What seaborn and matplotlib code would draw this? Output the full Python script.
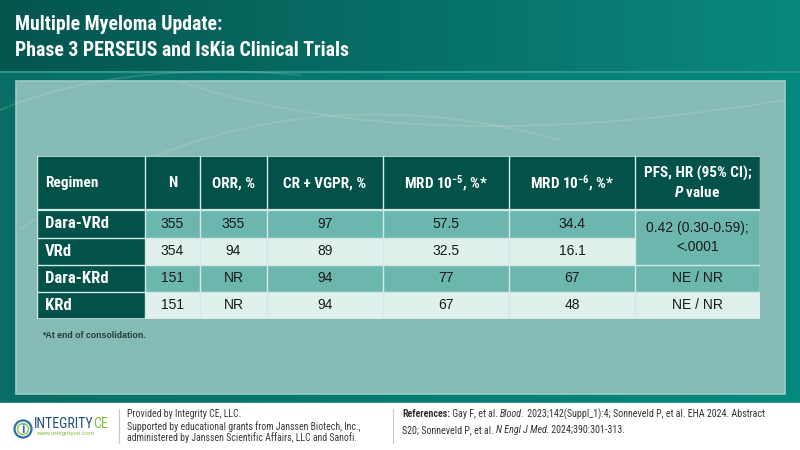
import numpy as np
import pandas as pd
import matplotlib
matplotlib.use("Agg")
import matplotlib.pyplot as plt
import seaborn as sns
from matplotlib.colors import ListedColormap, to_rgb
from matplotlib import font_manager as fm
from matplotlib.patches import Rectangle, Circle

# ---------------- data ----------------
title_lines = ["Multiple Myeloma Update:", "Phase 3 PERSEUS and IsKia Clinical Trials"]
headers = ["Regimen", "N", "ORR, %", "CR + VGPR, %",
           r"MRD 10$^{-5}$, %*", r"MRD 10$^{-6}$, %*", "PFS, HR (95% CI);"]
header_line2 = r"$\mathit{P}$ value"
regimens = ["Dara-VRd", "VRd", "Dara-KRd", "KRd"]
n_vals = ["355", "354", "151", "151"]
orr_vals = ["355", "94", "NR", "NR"]
crvgpr_vals = ["97", "89", "94", "94"]
mrd5_vals = ["57.5", "32.5", "77", "67"]
mrd6_vals = ["34.4", "16.1", "67", "48"]
pfs_vals = ["0.42 (0.30-0.59);\n<.0001", "", "NE / NR", "NE / NR"]
pfs_merged_rows = 2            # first PFS value spans two rows
row_shade = [1, 2, 1, 2]       # 0 dark, 1 medium, 2 light
pfs_shade = [1, 1, 1, 2]
footnote = "*At end of consolidation."
provided = ["Provided by Integrity CE, LLC.",
            "Supported by educational grants from Janssen Biotech, Inc.,",
            "administered by Janssen Scientific Affairs, LLC and Sanofi."]
refs_line1 = [("References:", "normal", "bold"), (" Gay F, et al. ", "normal", "normal"),
              ("Blood.", "italic", "normal"),
              (" 2023;142(Suppl_1):4; Sonneveld P, et al. EHA 2024. Abstract", "normal", "normal")]
refs_line2 = [("S20; Sonneveld P, et al. ", "normal", "normal"),
              ("N Engl J Med.", "italic", "normal"),
              (" 2024;390:301-313.", "normal", "normal")]

# ---------------- style ----------------
sns.set_theme(style="white")
names = {f.name for f in fm.fontManager.ttflist}
COND = next((n for n in ["Roboto Condensed", "Liberation Sans Narrow", "Archivo Narrow",
                         "Barlow Semi Condensed", "Asap Condensed"] if n in names), "DejaVu Sans")
REG = next((n for n in ["Liberation Sans", "Arimo", "Roboto"] if n in names), "DejaVu Sans")
plt.rcParams["font.family"] = [REG, "DejaVu Sans"]
plt.rcParams["mathtext.fontset"] = "custom"
plt.rcParams["mathtext.rm"] = COND + ":bold"
plt.rcParams["mathtext.bf"] = COND + ":bold"
plt.rcParams["mathtext.it"] = COND + ":italic:bold"

DARK = "#02524a"
MED = "#6cb7ad"
LIGHT = "#dff0ed"
LINE = "#d3e9e6"

fig = plt.figure(figsize=(8, 4.5), dpi=100)

# ---------------- background ----------------
bg = fig.add_axes([0, 0, 1, 1], zorder=0)
bg.set_xlim(0, 800)
bg.set_ylim(450, 0)
bg.axis("off")

def hgrad(c1, c2, n=256):
    a, b = np.array(to_rgb(c1)), np.array(to_rgb(c2))
    t = np.linspace(0, 1, n)[None, :, None]
    return a + (b - a) * t

bg.imshow(hgrad("#0a6e65", "#03897d"), extent=(0, 800, 403, 72), aspect="auto", zorder=0)
bg.imshow(hgrad("#04564f", "#0a887e"), extent=(0, 800, 72, 0), aspect="auto", zorder=0)
bg.plot([0, 800], [72, 72], color="#2c978c", lw=1.5, zorder=1)
bg.add_patch(Rectangle((0, 403), 800, 47, color="white", zorder=1))
bg.add_patch(Rectangle((16, 81), 769, 313, facecolor="#86bbb5", edgecolor="#9dccc6", lw=1.2, zorder=1))
# faint decorative swooshes
tt = np.linspace(0, 1, 200)
for (x0, y0, x1, y1, x2, y2, a) in [(20, 230, 260, 60, 560, 140, 0.10),
                                   (180, 82, 420, 160, 785, 100, 0.10),
                                   (0, 110, 120, 60, 300, 75, 0.12)]:
    xs = (1 - tt) ** 2 * x0 + 2 * (1 - tt) * tt * x1 + tt ** 2 * x2
    ys = (1 - tt) ** 2 * y0 + 2 * (1 - tt) * tt * y1 + tt ** 2 * y2
    bg.plot(xs, ys, color="white", alpha=a, lw=1.5, zorder=1.5)

for i, line in enumerate(title_lines):
    bg.text(15, 24 + 26 * i, line, color="white", fontsize=14.2, fontweight="bold",
            family=[COND, "DejaVu Sans"], va="center", ha="left", zorder=3)

bg.text(42, 336, footnote, fontsize=6.3, fontweight="bold", color="#1f3f3b", va="center", zorder=3)

# footer
bg.plot([119, 119], [409, 443], color="#c8c8c8", lw=0.8, zorder=3)
bg.plot([393, 393], [409, 443], color="#c8c8c8", lw=0.8, zorder=3)
for i, (txt, yy) in enumerate(zip(provided, [414, 427, 438])):
    bg.text(127, yy, txt, fontsize=7.1, color="#3a3a3a", family=[COND, REG], va="center", zorder=3)

fig.canvas.draw()
renderer = fig.canvas.get_renderer()

def rich(x, y, parts, size):
    for txt, style, weight in parts:
        t = bg.text(x, y, txt, fontsize=size, style=style, fontweight=weight,
                    color="#333333", family=[COND, REG], va="center", zorder=3)
        bb = t.get_window_extent(renderer=renderer)
        x += bb.width

rich(402, 414, refs_line1, 7.2)
rich(402, 430, refs_line2, 7.2)

# logo
bg.add_patch(Circle((23, 429), 8.5, facecolor="none", edgecolor="#2f6fa6", lw=1.6, zorder=3))
bg.add_patch(Circle((23, 429), 5.5, facecolor="none", edgecolor="#8cc63f", lw=1.0, zorder=3))
bg.text(23, 430, "i", fontsize=9, fontweight="bold", color="#2f6fa6", ha="center", va="center", zorder=4)
t1 = bg.text(34, 424, "INTEGRITY", fontsize=10, fontweight="normal", color="#1f4e7a",
             family=[COND, REG], va="center", zorder=3)
w1 = t1.get_window_extent(renderer=renderer).width
bg.text(34 + w1 - 0.5, 424, "CE", fontsize=10, fontweight="normal", color="#7fbf3f",
        family=[COND, REG], va="center", zorder=3)
bg.text(36, 434, "www.integrityce.com", fontsize=4.6, color="#7fbf3f", va="center", zorder=3)

# ---------------- table (seaborn heatmap) ----------------
col_widths = [108, 55, 67, 116, 126, 126, 125]
W = sum(col_widths)
edges = np.concatenate([[0], np.cumsum(col_widths)])
centers = (edges[:-1] + edges[1:]) / 2

# cell shade matrix: 2 header units + 4 body rows
shade = np.zeros((6, len(col_widths)), dtype=int)
for r in range(4):
    shade[2 + r, 1:6] = row_shade[r]
    shade[2 + r, 6] = pfs_shade[r]
    shade[2 + r, 0] = 0
grid = np.repeat(shade, col_widths, axis=1)
df = pd.DataFrame(grid)

ax = fig.add_axes([37 / 800, (450 - 319) / 450, W / 800, 163 / 450], zorder=2)
sns.heatmap(df, cmap=ListedColormap([DARK, MED, LIGHT]), vmin=-0.5, vmax=2.5,
            cbar=False, xticklabels=False, yticklabels=False, linewidths=0, ax=ax)
ax.set_xlim(0, W)
ax.set_ylim(6, 0)

# grid lines
for e in edges:
    ax.plot([e, e], [0, 6], color=LINE, lw=1.0, zorder=3)
ax.plot([0, W], [0, 0], color=LINE, lw=1.2, zorder=3)
ax.plot([0, W], [6, 6], color=LINE, lw=1.2, zorder=3)
ax.plot([0, W], [2, 2], color=LINE, lw=1.6, zorder=3)
ax.plot([0, edges[6]], [3, 3], color=LINE, lw=1.0, zorder=3)
ax.plot([0, W], [4, 4], color=LINE, lw=1.0, zorder=3)
ax.plot([0, W], [5, 5], color=LINE, lw=1.0, zorder=3)
for s in ax.spines.values():
    s.set_visible(False)

# header text
hdr_kw = dict(color="white", fontweight="bold", family=[COND, "DejaVu Sans"], fontsize=11, va="center")
ax.text(8, 1.0, headers[0], ha="left", **hdr_kw)
for j in range(1, 6):
    ax.text(centers[j], 1.0, headers[j], ha="center", **hdr_kw)
ax.text(centers[6], 0.64, headers[6], ha="center", **hdr_kw)
ax.text(centers[6], 1.36, header_line2, ha="center", **hdr_kw)

# body text
body_cols = [n_vals, orr_vals, crvgpr_vals, mrd5_vals, mrd6_vals]
for r in range(4):
    yc = 2 + r + 0.5
    ax.text(8, yc, regimens[r], ha="left", va="center", color="white", fontweight="bold",
            family=[COND, "DejaVu Sans"], fontsize=12)
    for j, col in enumerate(body_cols, start=1):
        ax.text(centers[j], yc, col[r], ha="center", va="center", color="#1a1a1a", fontsize=10)
    if r == 0:
        ax.text(centers[6], 2 + pfs_merged_rows / 2, pfs_vals[r], ha="center", va="center",
                color="#1a1a1a", fontsize=10, linespacing=1.45)
    elif pfs_vals[r]:
        ax.text(centers[6], yc, pfs_vals[r], ha="center", va="center", color="#1a1a1a", fontsize=10)

fig.savefig("out.png", dpi=100)
